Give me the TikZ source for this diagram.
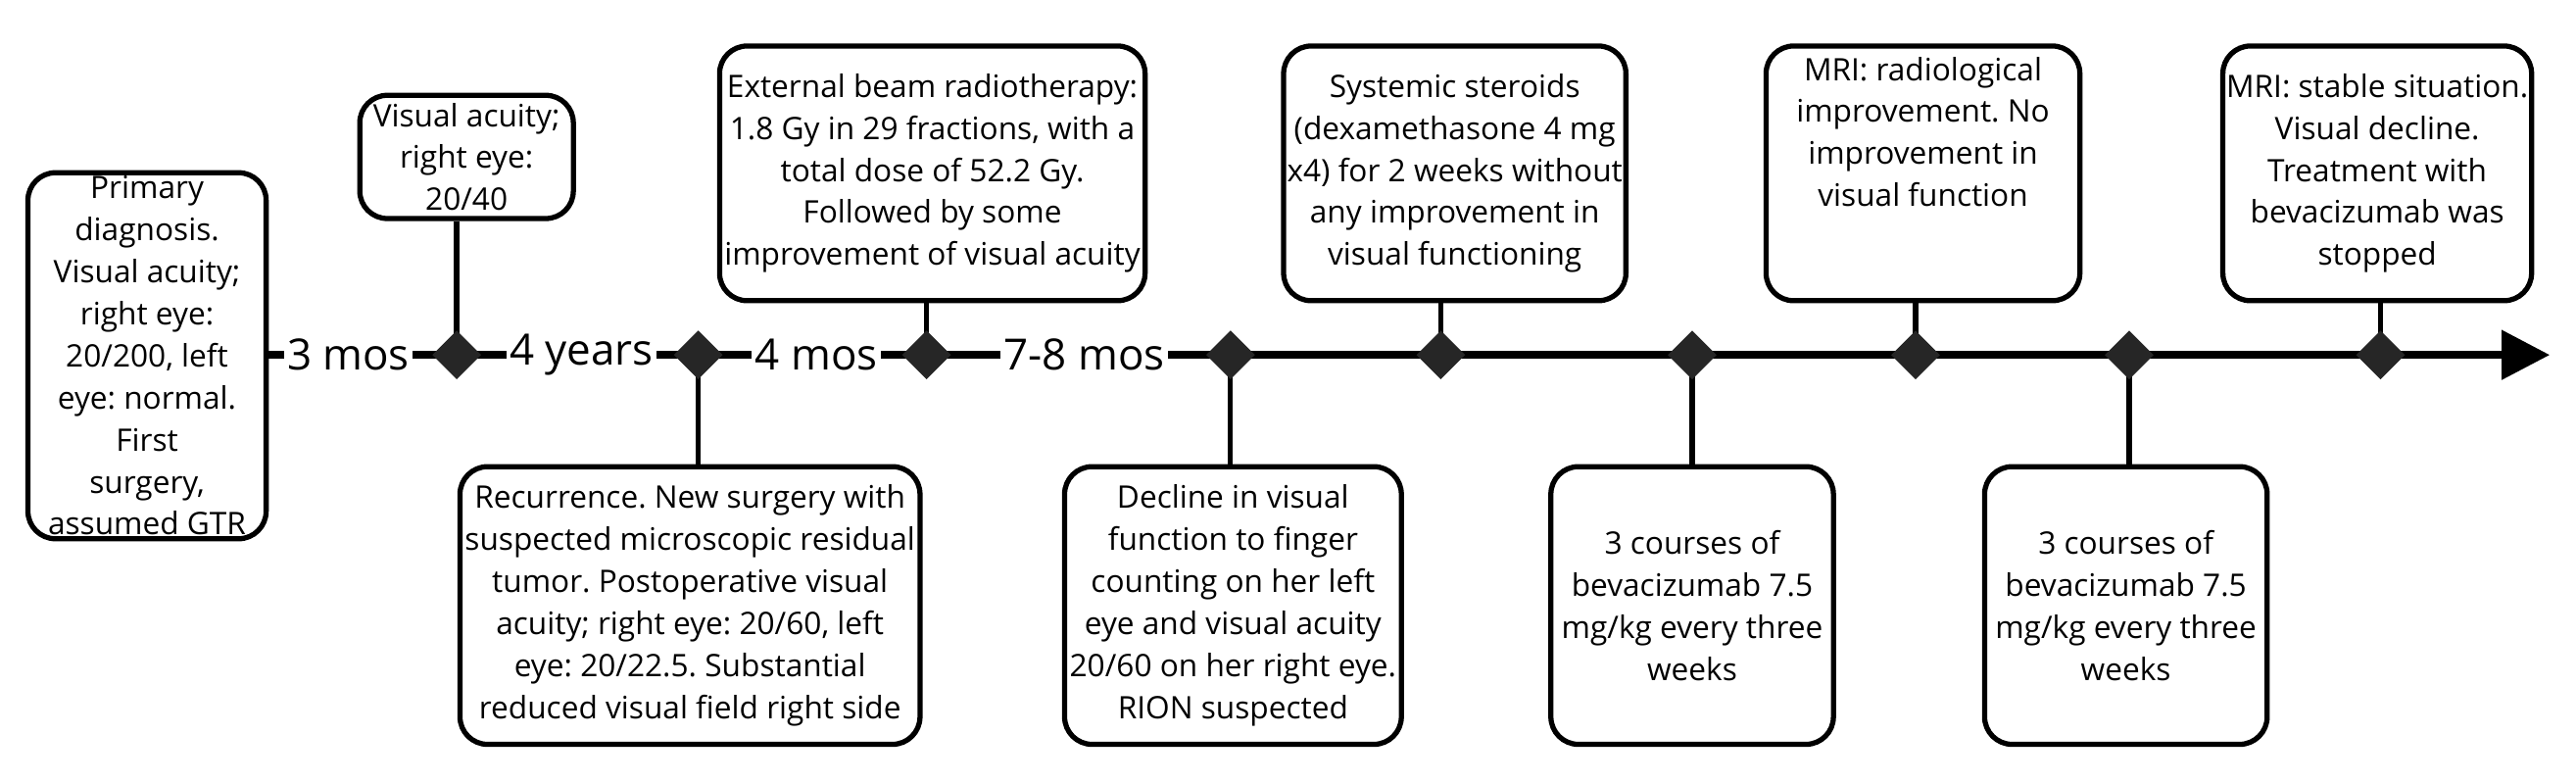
\documentclass[tikz,border=0pt]{standalone}
\usepackage{fontspec}
\setmainfont{Open Sans}
\usetikzlibrary{arrows.meta,shapes.geometric}
\newcommand{\un}{0.01677cm}
\frenchspacing
\begin{document}
\begin{tikzpicture}[x=\un, y=-\un,
    event/.style={draw, line width=1.5pt, rounded corners=8pt, align=center,
      font=\fontsize{9}{12.2}\selectfont, inner sep=1pt},
    milestone/.style={diamond, fill=black!85, inner sep=0pt, minimum size=30*\un},
    gap/.style={fill=white, inner sep=1pt, font=\fontsize{12.5}{15}\selectfont},
    stem/.style={line width=1.5pt}]
\useasboundingbox (0,0) rectangle (1568,477);
% boxes
\node[event, minimum width=145*\un, minimum height=217*\un] (b1) at (89.5,216.5)
  {Primary\\diagnosis.\\Visual acuity;\\right eye:\\20/200, left\\eye: normal.\\First\\surgery,\\assumed GTR};
\node[event, minimum width=130*\un, minimum height=75*\un] (b2) at (284,95.5)
  {Visual acuity;\\right eye:\\20/40};
\node[event, minimum width=280*\un, minimum height=169*\un] (b3) at (420,368.5)
  {Recurrence. New surgery with\\suspected microscopic residual\\tumor. Postoperative visual\\acuity; right eye: 20/60, left\\eye: 20/22.5. Substantial\\reduced visual field right side};
\node[event, minimum width=259*\un, minimum height=155*\un] (b4) at (567.5,105.5)
  {External beam radiotherapy:\\1.8 Gy in 29 fractions, with a\\total dose of 52.2 Gy.\\Followed by some\\improvement of visual acuity};
\node[event, minimum width=205*\un, minimum height=169*\un] (b5) at (750.5,368.5)
  {Decline in visual\\function to finger\\counting on her left\\eye and visual acuity\\20/60 on her right eye.\\RION suspected};
\node[event, minimum width=207*\un, minimum height=155*\un] (b6) at (885.5,105.5)
  {Systemic steroids\\(dexamethasone 4 mg\\x4) for 2 weeks without\\any improvement in\\visual functioning};
\node[event, minimum width=172*\un, minimum height=169*\un] (b7) at (1030,368.5)
  {3 courses of\\bevacizumab 7.5\\mg/kg every three\\weeks};
\node[event, minimum width=191*\un, minimum height=155*\un] (b8) at (1170.5,105.5)
  {MRI: radiological\\improvement. No\\improvement in\\visual function\\[12pt]};
\node[event, minimum width=172*\un, minimum height=169*\un] (b9) at (1294,368.5)
  {3 courses of\\bevacizumab 7.5\\mg/kg every three\\weeks};
\node[event, minimum width=186*\un, minimum height=155*\un] (b10) at (1447,105.5)
  {MRI: stable situation.\\Visual decline.\\Treatment with\\bevacizumab was\\stopped};
% timeline
\coordinate (end) at (1552,216);
\draw[line width=2.2pt, -{Triangle[length=14pt,width=14pt]}] (b1.east |- end) -- (end);
\foreach \n/\xx/\txt in {g1/212/3 mos, g2/354/4 years, g3/497/4 mos, g4/660/7-8 mos}
  \node[gap] (\n) at (\xx,216) {\txt};
% stems and marks
\foreach \d/\xx/\b/\side in {d1/278/b2/south, d2/425/b3/north, d3/564/b4/south, d4/749/b5/north,
    d5/877/b6/south, d6/1030/b7/north, d7/1166/b8/south, d8/1296/b9/north, d9/1449/b10/south} {
  \coordinate (\d) at (\xx,216);
  \draw[stem] (\d) -- (\d |- \b.\side);
  \node[milestone] at (\d) {};
}
\end{tikzpicture}
\end{document}
